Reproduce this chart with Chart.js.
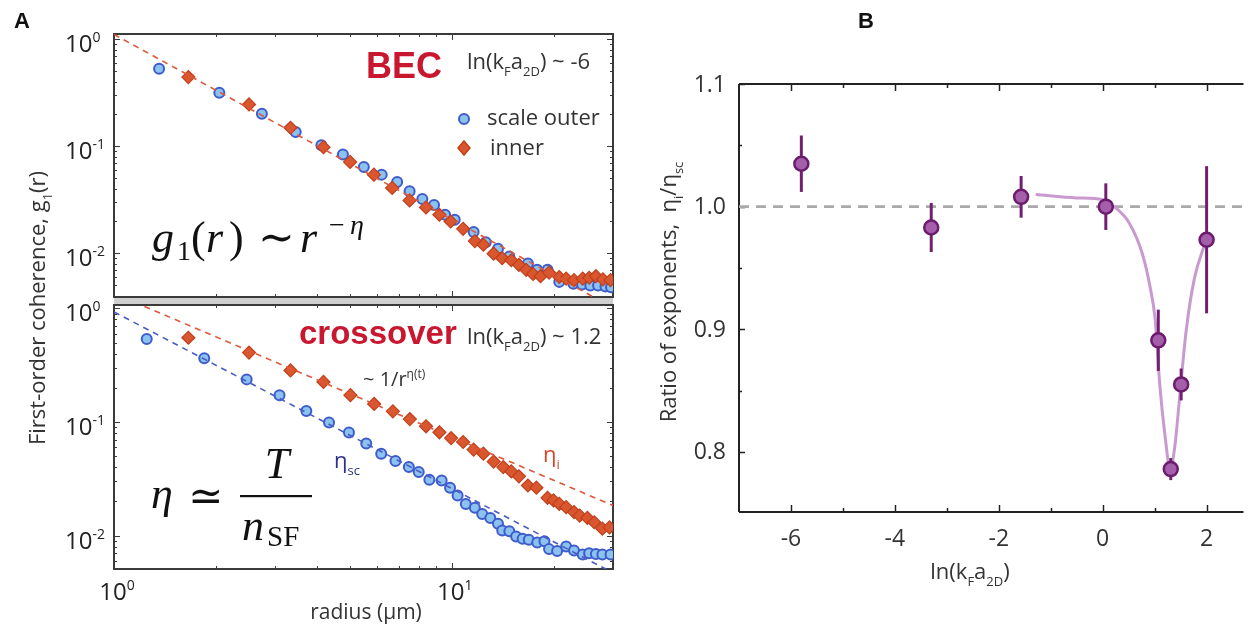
<!DOCTYPE html>
<html>
<head>
<meta charset="utf-8">
<script src="https://cdn.jsdelivr.net/npm/chart.js@4/dist/chart.umd.min.js"></script>
<style>
  html, body { margin: 0; padding: 0; background: #fff; overflow: hidden; }
  #wrap { position: relative; width: 1253px; height: 630px; }
  #wrap canvas { position: absolute; left: 0; top: 0; }
</style>
</head>
<body>
<div id="wrap">
  <canvas id="becChart" width="1253" height="630"></canvas>
  <canvas id="crossChart" width="1253" height="630"></canvas>
  <canvas id="ratioChart" width="1253" height="630"></canvas>
</div>
<script>
// ---- panel A, BEC regime: radius (um) vs g1(r)
const becOuterR = [1.36, 2.05, 2.74, 3.45, 4.11, 4.76, 5.49, 6.20, 6.89, 7.50, 8.18, 8.86, 9.55, 10.2, 11.6, 12.6, 13.7, 14.8, 16.8, 17.9, 19.2, 20.8, 22.9, 24.3, 25.7, 27.1, 28.5, 29.6];
const becOuterG = [0.531, 0.317, 0.201, 0.136, 0.102, 0.0836, 0.0641, 0.0543, 0.0464, 0.0379, 0.0321, 0.0282, 0.0229, 0.0206, 0.0158, 0.0127, 0.0110, 0.0093, 0.0080, 0.0070, 0.0070, 0.0054, 0.0052, 0.0051, 0.0050, 0.0050, 0.0049, 0.0048];
const becInnerR = [1.66, 2.51, 3.33, 4.17, 5.00, 5.88, 6.66, 7.50, 8.39, 9.19, 9.92, 10.8, 11.7, 12.4, 13.3, 14.1, 15.0, 15.8, 16.6, 17.4, 18.3, 19.4, 20.8, 21.8, 23.0, 24.4, 25.5, 26.7, 28.0, 29.5];
const becInnerG = [0.443, 0.246, 0.149, 0.098, 0.0714, 0.0543, 0.0408, 0.0312, 0.0268, 0.0229, 0.0198, 0.0169, 0.0130, 0.0120, 0.0099, 0.0090, 0.0086, 0.0078, 0.0070, 0.0064, 0.0061, 0.0066, 0.0060, 0.0058, 0.0056, 0.0058, 0.0059, 0.0061, 0.0057, 0.0056];
const becFitR = [1, 30];
const becFitG = [1.11, 0.0031];

// ---- panel A, crossover regime
const crossOuterR = [1.25, 1.85, 2.47, 3.09, 3.71, 4.33, 4.96, 5.58, 6.18, 6.81, 7.46, 7.98, 8.58, 9.33, 9.88, 10.4, 11.0, 11.7, 12.3, 13.0, 13.7, 14.1, 14.8, 15.5, 16.2, 16.9, 17.9, 18.8, 19.4, 20.5, 21.8, 23.0, 24.4, 25.5, 26.7, 27.9, 29.5];
const crossOuterG = [0.537, 0.363, 0.237, 0.172, 0.125, 0.0988, 0.0806, 0.0645, 0.0526, 0.0453, 0.0401, 0.0362, 0.0310, 0.0306, 0.0264, 0.0225, 0.0190, 0.0176, 0.0155, 0.0143, 0.0127, 0.0111, 0.0109, 0.0098, 0.0094, 0.0092, 0.0087, 0.0089, 0.0076, 0.0073, 0.0080, 0.0074, 0.0068, 0.0070, 0.0069, 0.0068, 0.0068];
const crossInnerR = [1.66, 2.51, 3.33, 4.17, 5.01, 5.89, 6.69, 7.51, 8.39, 9.19, 9.95, 10.8, 11.6, 12.4, 13.3, 14.2, 15.0, 15.8, 16.8, 17.8, 19.2, 20.0, 20.8, 21.8, 23.0, 23.9, 25.2, 26.4, 27.9, 29.3];
const crossInnerG = [0.551, 0.408, 0.284, 0.225, 0.172, 0.144, 0.124, 0.106, 0.0916, 0.0811, 0.0721, 0.0666, 0.0571, 0.0526, 0.0448, 0.0401, 0.0367, 0.0332, 0.0276, 0.0264, 0.0215, 0.0204, 0.0190, 0.0178, 0.0161, 0.0150, 0.0143, 0.0131, 0.0115, 0.0118];
const crossFitInnerR = [1, 30];
const crossFitInnerG = [1.35, 0.0184];
const crossFitOuterR = [1, 30];
const crossFitOuterG = [0.93, 0.0047];

const logDecades = [1, 0.1, 0.01];
const logDecadeExp = ['0', '-1', '-2'];
const radiusLabels = [1, 10];
const radiusLabelExp = ['0', '1'];

// ---- panel B: ratio of exponents vs ln(kF a2D)
const ratioX = [-5.80, -3.30, -1.57, 0.06, 1.07, 1.51, 1.31, 2.00];
const ratioY = [1.035, 0.983, 1.008, 1.000, 0.891, 0.855, 0.786, 0.973];
const ratioErr = [0.023, 0.020, 0.017, 0.019, 0.025, 0.013, 0.009, 0.060];
const fitX = [-1.29, -0.50, 0.00, 0.25, 0.51, 0.76, 0.91, 1.01, 1.10, 1.20, 1.30, 1.39, 1.46, 1.53, 1.61, 1.76, 1.95, 2.00];
const fitY = [1.0098, 1.0071, 1.0057, 0.999, 0.9867, 0.962, 0.935, 0.908, 0.854, 0.813, 0.786, 0.805, 0.835, 0.867, 0.900, 0.9405, 0.9676, 0.973];
const refX = [-7, 2.71];
const refY = [1, 1];
const lnTicks = [-6, -4, -2, 0, 2];
const lnMinorTicks = [-5, -3, -1, 1];
const ratioTicks = [0.8, 0.9, 1.0, 1.1];
const ratioMinorTicks = [0.85, 0.95, 1.05];

const SANS = '"Open Sans", "Noto Sans", sans-serif';
const SERIF = '"Liberation Serif", "DejaVu Serif", serif';
const RED = '#c8172f';
const TEXT = '#333';

const pts = (xs, ys) => xs.map((x, i) => ({ x, y: ys[i] }));

// text with sub/superscript pieces, drawn left to right
function rich(ctx, x, y, parts, size, opt = {}) {
  const fam = opt.family || SANS;
  const font = p => (p.it ? 'italic ' : '') + (p.bold ? 'bold ' : '') +
    Math.round(p.sub || p.sup ? size * 0.6 : size) + 'px ' + fam;
  let w = 0;
  parts.forEach(p => { ctx.font = font(p); w += ctx.measureText(p.t).width; });
  let cx = opt.align === 'center' ? x - w / 2 : opt.align === 'right' ? x - w : x;
  ctx.textAlign = 'left';
  ctx.textBaseline = 'alphabetic';
  ctx.fillStyle = opt.color || TEXT;
  parts.forEach(p => {
    ctx.font = font(p);
    const dy = p.sub ? size * 0.3 : p.sup ? -size * 0.42 : 0;
    ctx.fillText(p.t, cx, y + dy);
    cx += ctx.measureText(p.t).width;
  });
  return w;
}

function seg(ctx, x1, y1, x2, y2) {
  ctx.beginPath(); ctx.moveTo(x1, y1); ctx.lineTo(x2, y2); ctx.stroke();
}

function logTicks(min, max) {
  const out = [];
  for (let e = Math.floor(Math.log10(min)); e <= Math.ceil(Math.log10(max)); e++) {
    for (let m = 1; m <= 9; m++) {
      const v = m * Math.pow(10, e);
      if (v >= min * 0.999 && v <= max * 1.001) out.push({ v, major: m === 1 });
    }
  }
  return out;
}

// frame with inward ticks on all four sides of a log-log panel
function drawLogFrame(chart, showXLabels) {
  const { ctx, chartArea: a, scales: { x, y } } = chart;
  ctx.save();
  ctx.strokeStyle = '#3a3a3a';
  ctx.lineWidth = 1;
  logTicks(x.min, x.max).forEach(t => {
    const px = Math.round(x.getPixelForValue(t.v)) + 0.5;
    const len = t.major ? 6 : 3;
    seg(ctx, px, a.top, px, a.top + len);
    seg(ctx, px, a.bottom, px, a.bottom - len);
  });
  logTicks(y.min, y.max).forEach(t => {
    const py = Math.round(y.getPixelForValue(t.v)) + 0.5;
    const len = t.major ? 6 : 3;
    seg(ctx, a.left, py, a.left + len, py);
    seg(ctx, a.right, py, a.right - len, py);
  });
  ctx.lineWidth = 2;
  ctx.strokeRect(a.left, a.top, a.right - a.left, a.bottom - a.top);

  logDecades.forEach((v, i) => {
    const py = y.getPixelForValue(v);
    rich(ctx, 65, py + 13, [{ t: '10' }, { t: logDecadeExp[i], sup: true }], 24, { color: '#222' });
  });
  if (showXLabels) {
    radiusLabels.forEach((v, i) => {
      const px = x.getPixelForValue(v);
      rich(ctx, px + 3, 600, [{ t: '10' }, { t: radiusLabelExp[i], sup: true }], 24, { align: 'center', color: '#222' });
    });
  }
  ctx.restore();
}

function legendCircle(ctx, x, y) {
  ctx.beginPath(); ctx.arc(x, y, 5, 0, Math.PI * 2);
  ctx.fillStyle = '#8cc2f0'; ctx.fill();
  ctx.lineWidth = 2; ctx.strokeStyle = '#3f5ccc'; ctx.stroke();
}
function legendDiamond(ctx, x, y) {
  ctx.beginPath();
  ctx.moveTo(x, y - 7); ctx.lineTo(x + 6, y); ctx.lineTo(x, y + 7); ctx.lineTo(x - 6, y); ctx.closePath();
  ctx.fillStyle = '#d9572e'; ctx.fill();
  ctx.lineWidth = 1.5; ctx.strokeStyle = '#c23f1c'; ctx.stroke();
}

const outerStyle = {
  showLine: false, pointStyle: 'circle', pointRadius: 5, pointBorderWidth: 2,
  backgroundColor: '#8cc2f0', borderColor: '#3f5ccc', order: 2
};
const innerStyle = {
  showLine: false, pointStyle: 'rectRot', pointRadius: 6.5, pointBorderWidth: 1.2,
  backgroundColor: '#d9572e', borderColor: '#c23f1c', order: 1
};
const dashStyle = (color) => ({
  showLine: true, pointRadius: 0, borderColor: color, borderWidth: 1.6,
  borderDash: [6, 5], order: 0
});

const baseOptions = (padding, ymin, ymax) => ({
  responsive: false,
  animation: false,
  events: [],
  layout: { padding },
  plugins: { legend: { display: false }, tooltip: { enabled: false } },
  scales: {
    x: { type: 'logarithmic', min: 1, max: 30, display: false },
    y: { type: 'logarithmic', min: ymin, max: ymax, display: false }
  }
});

// top panel: BEC
new Chart(document.getElementById('becChart'), {
  type: 'scatter',
  data: {
    datasets: [
      Object.assign({ data: pts(becFitR, becFitG) }, dashStyle('#e0573a')),
      Object.assign({ data: pts(becInnerR, becInnerG) }, innerStyle),
      Object.assign({ data: pts(becOuterR, becOuterG) }, outerStyle)
    ]
  },
  options: baseOptions({ left: 114, top: 34, right: 640, bottom: 333 }, 0.0039, 1.12),
  plugins: [{
    id: 'becDecor',
    beforeDatasetsDraw(chart) { drawLogFrame(chart, false); },
    afterDraw(chart) {
      const ctx = chart.ctx;
      ctx.save();
      // separator bar between the two stacked panels
      ctx.fillStyle = '#cfcfcf';
      ctx.fillRect(114, 298, 499, 6);

      ctx.font = 'bold 36px "Liberation Sans", Arial, sans-serif';
      ctx.fillStyle = RED;
      ctx.textBaseline = 'alphabetic';
      ctx.fillText('BEC', 366, 78);
      rich(ctx, 467, 69, [{ t: 'ln(k' }, { t: 'F', sub: true }, { t: 'a' }, { t: '2D', sub: true }, { t: ') ~ -6' }], 22);

      legendCircle(ctx, 464, 119);
      rich(ctx, 487, 125, [{ t: 'scale outer' }], 22);
      legendDiamond(ctx, 464, 148);
      rich(ctx, 490, 155, [{ t: 'inner' }], 22);

      // g1(r) ~ r^-eta
      ctx.fillStyle = '#111';
      const big = '44px ' + SERIF, bigIt = 'italic 44px ' + SERIF, sm = '28px ' + SERIF, smIt = 'italic 28px ' + SERIF;
      ctx.font = bigIt; ctx.fillText('g', 152, 252);
      ctx.font = sm; ctx.fillText('1', 177, 260);
      ctx.font = big; ctx.fillText('(', 191, 252);
      ctx.font = bigIt; ctx.fillText('r', 206, 252);
      ctx.font = big; ctx.fillText(')', 229, 252);
      ctx.font = big; ctx.fillText('\u223C', 258, 252);
      ctx.font = bigIt; ctx.fillText('r', 300, 252);
      ctx.font = sm; ctx.fillText('\u2212', 329, 234);
      ctx.font = smIt; ctx.fillText('\u03B7', 350, 234);

      // panel letter and shared axis label
      ctx.font = 'bold 22px "Liberation Sans", Arial, sans-serif';
      ctx.fillStyle = '#111';
      ctx.fillText('A', 14, 28);

      ctx.translate(45, 308);
      ctx.rotate(-Math.PI / 2);
      rich(ctx, 0, 0, [{ t: 'First-order coherence, g' }, { t: '1', sub: true }, { t: '(r)' }], 22, { align: 'center' });
      ctx.restore();
    }
  }]
});

// bottom panel: crossover
new Chart(document.getElementById('crossChart'), {
  type: 'scatter',
  data: {
    datasets: [
      Object.assign({ data: pts(crossFitInnerR, crossFitInnerG) }, dashStyle('#e0573a')),
      Object.assign({ data: pts(crossFitOuterR, crossFitOuterG) }, dashStyle('#4a5cc4')),
      Object.assign({ data: pts(crossInnerR, crossInnerG) }, innerStyle),
      Object.assign({ data: pts(crossOuterR, crossOuterG) }, outerStyle)
    ]
  },
  options: baseOptions({ left: 114, top: 305, right: 640, bottom: 61 }, 0.00508, 1.07),
  plugins: [{
    id: 'crossDecor',
    beforeDatasetsDraw(chart) { drawLogFrame(chart, true); },
    afterDraw(chart) {
      const ctx = chart.ctx;
      ctx.save();
      ctx.font = 'bold 33px "Liberation Sans", Arial, sans-serif';
      ctx.fillStyle = RED;
      ctx.textBaseline = 'alphabetic';
      ctx.fillText('crossover', 299, 344);
      rich(ctx, 467, 344, [{ t: 'ln(k' }, { t: 'F', sub: true }, { t: 'a' }, { t: '2D', sub: true }, { t: ') ~ 1.2' }], 22);
      rich(ctx, 363, 386, [{ t: '~ 1/r' }, { t: '\u03B7(t)', sup: true }], 20);
      rich(ctx, 334, 468, [{ t: '\u03B7' }, { t: 'sc', sub: true }], 22, { color: '#2c2f8c' });
      rich(ctx, 543, 462, [{ t: '\u03B7' }, { t: 'i', sub: true }], 22, { color: '#d4452a' });

      // eta ~= T / n_SF
      ctx.fillStyle = '#111';
      ctx.font = 'italic 44px ' + SERIF; ctx.fillText('\u03B7', 151, 508);
      ctx.font = '42px ' + SERIF; ctx.fillText('\u2243', 188, 510);
      ctx.font = 'italic 44px ' + SERIF; ctx.textAlign = 'center'; ctx.fillText('T', 277, 478);
      ctx.fillRect(240, 495, 72, 2.2);
      ctx.textAlign = 'left';
      ctx.font = 'italic 44px ' + SERIF; ctx.fillText('n', 242, 540);
      ctx.font = '29px ' + SERIF; ctx.fillText('SF', 267, 546);

      ctx.font = '21px ' + SANS;
      ctx.fillStyle = TEXT;
      ctx.textAlign = 'center';
      ctx.fillText('radius (\u03BCm)', 366, 619);
      ctx.restore();
    }
  }]
});

// panel B: ratio of exponents
new Chart(document.getElementById('ratioChart'), {
  type: 'scatter',
  data: {
    datasets: [
      {
        data: pts(ratioX, ratioY), showLine: false, pointStyle: 'circle', pointRadius: 7,
        pointBorderWidth: 2.5, backgroundColor: '#a55ea9', borderColor: '#6c1c6f', order: 0
      },
      {
        data: pts(fitX, fitY), showLine: true, pointRadius: 0, borderColor: '#c99ad0',
        borderWidth: 3, cubicInterpolationMode: 'monotone', order: 1
      },
      {
        data: pts(refX, refY), showLine: true, pointRadius: 0, borderColor: '#a9a9a9',
        borderWidth: 2.6, borderDash: [10, 7], order: 2
      }
    ]
  },
  options: {
    responsive: false,
    animation: false,
    events: [],
    layout: { padding: { left: 739, top: 84, right: 0, bottom: 118 } },
    plugins: { legend: { display: false }, tooltip: { enabled: false } },
    scales: {
      x: { type: 'linear', min: -7, max: 2.71, display: false },
      y: { type: 'linear', min: 0.751, max: 1.1, display: false }
    }
  },
  plugins: [{
    id: 'ratioDecor',
    beforeDatasetsDraw(chart) {
      const { ctx, chartArea: a, scales: { x, y } } = chart;
      ctx.save();
      ctx.strokeStyle = '#222';
      ctx.lineWidth = 1.5;
      lnTicks.concat(lnMinorTicks).forEach(v => {
        const px = Math.round(x.getPixelForValue(v)) + 0.5;
        const len = lnTicks.includes(v) ? 7 : 4;
        seg(ctx, px, a.top, px, a.top + len);
        seg(ctx, px, a.bottom, px, a.bottom - len);
      });
      ratioTicks.concat(ratioMinorTicks).forEach(v => {
        const py = Math.round(y.getPixelForValue(v)) + 0.5;
        const len = ratioTicks.includes(v) ? 6 : 3;
        seg(ctx, a.left, py, a.left + len, py);
      });
      ctx.lineWidth = 2;
      seg(ctx, a.left, a.top, a.right, a.top);
      seg(ctx, a.left, a.bottom, a.right, a.bottom);
      seg(ctx, a.left, a.top, a.left, a.bottom);

      ctx.fillStyle = TEXT;
      ctx.font = '23px ' + SANS;
      ctx.textBaseline = 'middle';
      ctx.textAlign = 'right';
      ratioTicks.forEach(v => ctx.fillText(v.toFixed(1), a.left - 13, y.getPixelForValue(v) + 1));
      ctx.textAlign = 'center';
      lnTicks.forEach(v => ctx.fillText(String(v), x.getPixelForValue(v), 539));
      ctx.textBaseline = 'alphabetic';
      rich(ctx, 970, 579, [{ t: 'ln(k' }, { t: 'F', sub: true }, { t: 'a' }, { t: '2D', sub: true }, { t: ')' }], 22, { align: 'center' });

      ctx.font = 'bold 22px "Liberation Sans", Arial, sans-serif';
      ctx.fillStyle = '#111';
      ctx.textAlign = 'left';
      ctx.fillText('B', 858, 28);

      ctx.translate(676, 292);
      ctx.rotate(-Math.PI / 2);
      rich(ctx, 0, 0, [{ t: 'Ratio of exponents,  \u03B7' }, { t: 'i', sub: true }, { t: '/\u03B7' }, { t: 'sc', sub: true }], 22, { align: 'center' });
      ctx.restore();
    },
    beforeDatasetDraw(chart, args) {
      if (args.index !== 0) return;
      const { ctx, scales: { x, y } } = chart;
      ctx.save();
      ctx.strokeStyle = '#721f72';
      ctx.lineWidth = 3;
      ratioX.forEach((v, i) => {
        const px = x.getPixelForValue(v);
        seg(ctx, px, y.getPixelForValue(ratioY[i] - ratioErr[i]), px, y.getPixelForValue(ratioY[i] + ratioErr[i]));
      });
      ctx.restore();
    }
  }]
});
</script>
</body>
</html>
